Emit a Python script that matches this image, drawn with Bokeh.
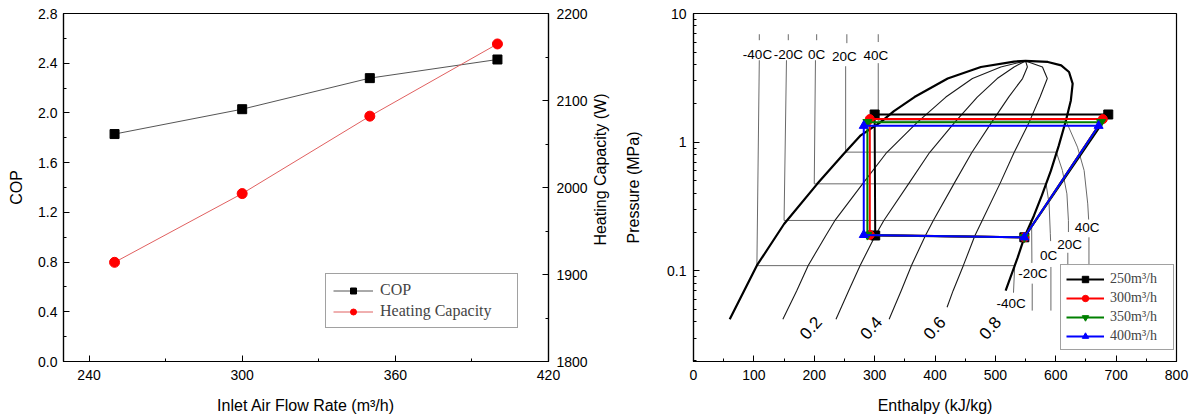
import math
from bokeh.plotting import figure
from bokeh.models import (Range1d, LinearAxis, FixedTicker, Legend, LegendItem,
                          CustomJSTickFormatter, PrintfTickFormatter)
from bokeh.layouts import row
from bokeh.core.properties import value
from bokeh.embed import file_html
from bokeh.resources import INLINE

# ---------------- left chart data ----------------
flow_rate = [250, 300, 350, 400]
cop = [1.83, 2.03, 2.28, 2.43]
heating_capacity = [1914, 1993, 2082, 2165]
flow_ticks = [240, 300, 360, 420]
cop_ticks = [0.0, 0.4, 0.8, 1.2, 1.6, 2.0, 2.4, 2.8]
hc_ticks = [1800, 1900, 2000, 2100, 2200]

# ---------------- right chart data (P-h diagram) ----------------
# saturation dome: liquid line -> critical point -> vapour line
dome_h = [60, 105, 150, 205, 249, 277, 310, 332, 366, 421, 476, 531, 550,
          587, 609, 622, 628, 625, 617, 605, 592, 577, 564, 548, 537, 517]
dome_p = [0.042, 0.110, 0.231, 0.474, 0.812, 1.13, 1.43, 1.74, 2.24, 3.12, 3.84, 4.23, 4.28,
          4.20, 3.95, 3.51, 2.85, 2.11, 1.48, 0.94, 0.60, 0.385, 0.269, 0.182, 0.127, 0.070]

# constant-quality lines
q_p = [0.042, 0.07, 0.11, 0.187, 0.245, 0.48, 0.83, 1.43, 2.24, 3.12, 3.84, 4.28]
q02_h = [148, 171, 190, 219, 234, 281, 320, 371, 418, 462, 509, 550]
q04_h = [236, 257, 276, 301, 315, 357, 391, 433, 470, 503, 531, 550]
q06_h = [324, 344, 361, 384, 397, 432, 461, 494, 522, 545, 553, 550]
q08_p = [0.052, 0.07, 0.11, 0.187, 0.245, 0.48, 0.83, 1.43, 2.24, 3.12, 3.84, 4.28]
q08_h = [420, 430, 447, 466, 478, 508, 531, 556, 574, 586, 578, 550]
q_labels = ["0.2", "0.4", "0.6", "0.8"]
q_label_h = [194, 294, 399, 491]
q_label_p = [0.036, 0.036, 0.036, 0.036]

# isotherms
iso_labels = ["-40C", "-20C", "0C", "20C", "40C"]
sat_p = [0.1096, 0.246, 0.474, 0.836, 1.46]
liq_h_top = [109, 154, 202, 252, 306]
liq_h_bot = [105, 150, 200, 252, 306]
liq_p_top = [4.33, 4.33, 4.33, 3.89, 4.11]
stub_h = [109, 157, 204, 254, 306]
stub_p_top = [6.9, 6.9, 6.9, 6.9, 6.9]
stub_p_bot = [6.2, 6.2, 6.2, 5.88, 6.0]
vap_h = [532, 560, 584, 601, 617]
sh1_h = [[532, 530], [560, 560.5], [584, 589, 591, 591.5],
         [601, 611, 618.5, 621, 621], [617, 636, 647, 653, 654.5]]
sh1_p = [[0.1096, 0.0675], [0.246, 0.115], [0.474, 0.331, 0.194, 0.17],
         [0.836, 0.602, 0.396, 0.245, 0.2], [1.46, 0.914, 0.602, 0.331, 0.25]]
sh2_h = [[561, 561], [592, 592], [620, 620], [655, 655]]
sh2_p = [[0.0794, 0.049], [0.107, 0.049], [0.138, 0.106], [0.182, 0.106]]
iso_top_label_h = [106, 157, 204, 250, 302]
iso_top_label_p = [4.8, 4.8, 4.8, 4.6, 4.73]
iso_sh_label_h = [526, 562, 588, 623, 652]
iso_sh_label_p = [0.0555, 0.0948, 0.131, 0.160, 0.218]

# heat-pump cycles: condenser exit, expansion exit, evaporator exit, compressor exit
cycle_labels = ["250m\u00b3/h", "300m\u00b3/h", "350m\u00b3/h", "400m\u00b3/h"]
h_250 = [300, 301, 548, 687]
p_250 = [1.64, 0.188, 0.182, 1.64]
h_300 = [292, 292, 548, 678]
p_300 = [1.51, 0.19, 0.182, 1.51]
h_350 = [288, 288, 548, 675]
p_350 = [1.43, 0.19, 0.182, 1.43]
h_400 = [282, 282, 548, 671]
p_400 = [1.34, 0.19, 0.182, 1.34]
enthalpy_ticks = [0, 100, 200, 300, 400, 500, 600, 700, 800]
pressure_ticks = [0.1, 1, 10]

SANS = "Liberation Sans"
SERIF = "Liberation Serif"


def style_axis(ax, standoff, label_standoff):
    ax.major_tick_in = 6
    ax.major_tick_out = 0
    ax.minor_tick_in = 3
    ax.minor_tick_out = 0
    ax.axis_line_color = "black"
    ax.axis_line_width = 1.2
    ax.major_tick_line_color = "black"
    ax.minor_tick_line_color = "black"
    ax.major_label_text_font = SANS
    ax.major_label_text_font_size = "14px"
    ax.major_label_text_color = "black"
    ax.major_label_standoff = standoff
    ax.axis_label_text_font = SANS
    ax.axis_label_text_font_size = "16px"
    ax.axis_label_text_font_style = "normal"
    ax.axis_label_text_color = "black"
    ax.axis_label_standoff = label_standoff


# ================= left figure =================
p1 = figure(width=590, height=417, x_range=Range1d(230, 420), y_range=Range1d(0, 2.8),
            output_backend="svg", toolbar_location=None,
            min_border_left=63, min_border_right=42, min_border_top=13, min_border_bottom=56)
p1.extra_y_ranges = {"hc": Range1d(1800, 2200)}
p1.xgrid.visible = False
p1.ygrid.visible = False
p1.outline_line_color = "black"
p1.outline_line_width = 1.2

p1.xaxis.ticker = FixedTicker(ticks=flow_ticks, minor_ticks=[270, 330, 390])
p1.xaxis.axis_label = "Inlet Air Flow Rate (m\u00b3/h)"
style_axis(p1.xaxis[0], 8, 14)
p1.yaxis.ticker = FixedTicker(ticks=cop_ticks,
                              minor_ticks=[0.2, 0.6, 1.0, 1.4, 1.8, 2.2, 2.6])
p1.yaxis.formatter = PrintfTickFormatter(format="%.1f")
p1.yaxis.axis_label = "COP"
style_axis(p1.yaxis[0], 6, 10)

hc_axis = LinearAxis(y_range_name="hc",
                     ticker=FixedTicker(ticks=hc_ticks, minor_ticks=[1850, 1950, 2050, 2150]))
style_axis(hc_axis, 8, 3)
p1.add_layout(hc_axis, "right")

l_cop = p1.line(flow_rate, cop, line_color="#555555", line_width=1)
s_cop = p1.scatter(flow_rate, cop, marker="square", size=9, fill_color="black", line_color="black")
l_hc = p1.line(flow_rate, heating_capacity, y_range_name="hc", line_color="#e06060", line_width=1)
s_hc = p1.scatter(flow_rate, heating_capacity, y_range_name="hc", marker="circle", size=10,
                  fill_color="#ff0000", line_color="#ff0000")

leg1 = Legend(items=[LegendItem(label="COP", renderers=[l_cop, s_cop]),
                     LegendItem(label="Heating Capacity", renderers=[l_hc, s_hc])],
              location=(262, 33))
leg1.label_text_font = SERIF
leg1.label_text_font_size = "16px"
leg1.border_line_color = "#444444"
leg1.border_line_width = 1
leg1.padding = 7
leg1.spacing = 3
leg1.margin = 0
leg1.glyph_width = 40
leg1.glyph_height = 15
leg1.label_height = 15
leg1.label_width = 130
leg1.label_standoff = 7
p1.add_layout(leg1)

# ============ narrow strip carrying the right-hand axis title of the left chart ============
p3 = figure(width=25, height=417, x_range=Range1d(0, 25), y_range=Range1d(0, 417),
            output_backend="svg", toolbar_location=None,
            x_axis_location=None, y_axis_location=None, min_border=0)
p3.grid.visible = False
p3.outline_line_color = None
p3.text(x=[10], y=[230], text=["Heating Capacity (W)"], angle=math.pi / 2,
        text_font=value(SANS), text_font_size="16px", text_align="center",
        text_baseline="middle", text_color="black")

# ================= right figure =================
p2 = figure(width=577, height=417, x_range=Range1d(0, 800), y_range=Range1d(0.0197, 10),
            y_axis_type="log", output_backend="svg", toolbar_location=None,
            min_border_left=78, min_border_right=16, min_border_top=13, min_border_bottom=56)
p2.xgrid.visible = False
p2.ygrid.visible = False
p2.outline_line_color = "black"
p2.outline_line_width = 1.2

p2.xaxis.ticker = FixedTicker(ticks=enthalpy_ticks,
                              minor_ticks=[50, 150, 250, 350, 450, 550, 650, 750])
p2.xaxis.axis_label = "Enthalpy (kJ/kg)"
style_axis(p2.xaxis[0], 8, 14)
minor_log = [m * d for d in (0.01, 0.1, 1) for m in (2, 3, 4, 5, 6, 7, 8, 9)]
p2.yaxis.ticker = FixedTicker(ticks=pressure_ticks, minor_ticks=minor_log)
p2.yaxis.formatter = CustomJSTickFormatter(code="return String(Math.round(tick*10)/10);")
p2.yaxis.axis_label = "Pressure (MPa)"
style_axis(p2.yaxis[0], 7, 22)

ISO_COLOR = "#6a6a6a"
# liquid-region isotherms (vertical), label stubs, two-phase horizontals
iso_xs, iso_ys = [], []
for i in range(len(iso_labels)):
    iso_xs.append([liq_h_top[i], liq_h_bot[i]])
    iso_ys.append([liq_p_top[i], sat_p[i]])
    iso_xs.append([stub_h[i], stub_h[i]])
    iso_ys.append([stub_p_top[i], stub_p_bot[i]])
    iso_xs.append([liq_h_bot[i], vap_h[i]])
    iso_ys.append([sat_p[i], sat_p[i]])
iso_xs += sh1_h + sh2_h
iso_ys += sh1_p + sh2_p
p2.multi_line(iso_xs, iso_ys, line_color=ISO_COLOR, line_width=1)

# quality lines
p2.multi_line([q02_h, q04_h, q06_h, q08_h], [q_p, q_p, q_p, q08_p],
              line_color="#1a1a1a", line_width=1.1)
# saturation dome
p2.line(dome_h, dome_p, line_color="black", line_width=2.2)

# cycles
cyc_items = []
for h, pr, col, mk, lab in [(h_250, p_250, "#000000", "square", cycle_labels[0]),
                            (h_300, p_300, "#ff0000", "circle", cycle_labels[1]),
                            (h_350, p_350, "#008000", "inverted_triangle", cycle_labels[2]),
                            (h_400, p_400, "#0000ff", "triangle", cycle_labels[3])]:
    ln = p2.line(h + h[:1], pr + pr[:1], line_color=col, line_width=2)
    sc = p2.scatter(h, pr, marker=mk, size=9, fill_color=col, line_color=col)
    cyc_items.append(LegendItem(label=lab, renderers=[ln, sc]))

# texts
p2.text(iso_top_label_h, iso_top_label_p, text=iso_labels, text_font=value(SANS),
        text_font_size="13.5px", text_align="center", text_baseline="middle", text_color="black")
p2.text(iso_sh_label_h, iso_sh_label_p, text=iso_labels, text_font=value(SANS),
        text_font_size="13.5px", text_align="center", text_baseline="middle", text_color="black")
p2.text(q_label_h, q_label_p, text=q_labels, text_font=value(SANS), angle=0.85,
        text_font_size="17px", text_align="center", text_baseline="middle", text_color="black")

leg2 = Legend(items=cyc_items, location=(367, 11))
leg2.label_text_font = SERIF
leg2.label_text_font_size = "14px"
leg2.border_line_color = "#444444"
leg2.border_line_width = 1
leg2.padding = 5
leg2.spacing = 2
leg2.margin = 0
leg2.glyph_width = 38
leg2.glyph_height = 16
leg2.label_height = 17
leg2.label_width = 58
leg2.label_standoff = 6
p2.add_layout(leg2)

layout = row(p1, p3, p2)
open("out.html", "w").write(file_html(layout, INLINE))
